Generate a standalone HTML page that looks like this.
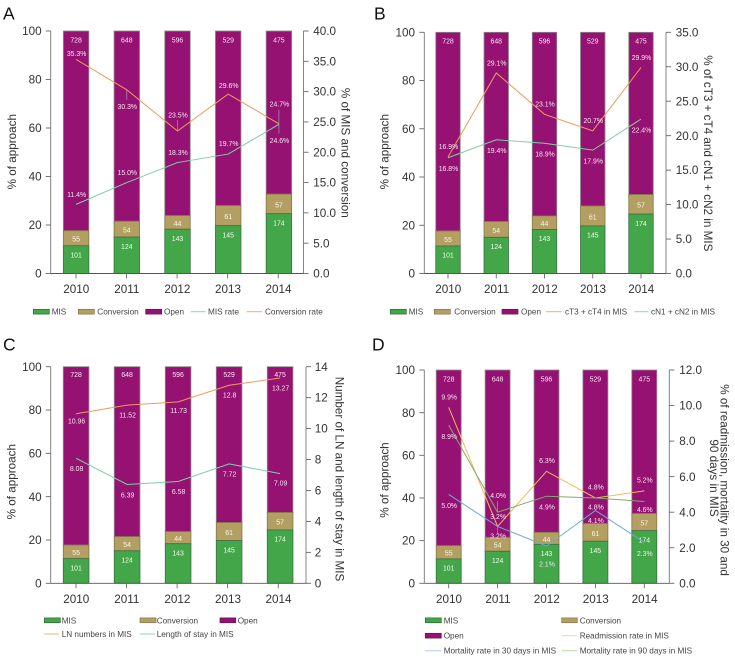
<!DOCTYPE html>
<html lang="en">
<head>
<meta charset="utf-8">
<title>Surgical approach trends 2010-2014</title>
<style>
html,body{margin:0;padding:0;background:#fff;}
svg{display:block;}
text{font-family:"Liberation Sans",Arial,sans-serif;}
</style>
</head>
<body>
<svg id="figure" xmlns="http://www.w3.org/2000/svg" width="735" height="657" viewBox="0 0 735 657"></svg>
<script>
// ---- shared chart data ----
var years = ['2010', '2011', '2012', '2013', '2014'];
var misCounts = [101, 124, 143, 145, 174];
var conversionCounts = [55, 54, 44, 61, 57];
var openCounts = [728, 648, 596, 529, 475];
var leftTickLabels = ['0', '20', '40', '60', '80', '100'];

// ---- panel A ----
var rightTicksA = ['0.0', '5.0', '10.0', '15.0', '20.0', '25.0', '30.0', '35.0', '40.0'];
var misRateA = [11.4, 15.0, 18.3, 19.7, 24.6];
var conversionRateA = [35.3, 30.3, 23.5, 29.6, 24.7];

// ---- panel B ----
var rightTicksB = ['0.0', '5.0', '10.0', '15.0', '20.0', '25.0', '30.0', '35.0'];
var cT3T4B = [16.9, 29.1, 23.1, 20.7, 29.9];
var cN1N2B = [16.8, 19.4, 18.9, 17.9, 22.4];

// ---- panel C ----
var rightTicksC = ['0', '2', '4', '6', '8', '10', '12', '14'];
var lnNumbersC = [10.96, 11.52, 11.73, 12.8, 13.27];
var lengthOfStayC = [8.08, 6.39, 6.58, 7.72, 7.09];

// ---- panel D ----
var rightTicksD = ['0.0', '2.0', '4.0', '6.0', '8.0', '10.0', '12.0'];
var readmissionD = [9.9, 3.2, 6.3, 4.8, 5.2];
var mortality30D = [5.0, 3.2, 2.1, 4.1, 2.3];
var mortality90D = [8.9, 4.0, 4.9, 4.8, 4.6];

function pct(v) { return v.toFixed(1) + '%'; }
function plain(v) { return String(v); }

var panels = [
  {
    id: 'a', letter: 'A', letterX: 3, letterY: 19.5,
    left: 50.7, right: 303.5, top: 31, bottom: 273.5,
    barStart: 76.1, barStep: 50.7, barWidth: 25.5, tickStart: 76, tickStep: 50.55,
    leftLabelX: 41.7, rightLabelX: 313.3,
    rightTicks: rightTicksA, rightMax: 40, format: pct,
    leftTitleX: 12.3, leftTitleY: 151.7,
    rightTitles: [{ text: '% of MIS and conversion', x: 345, y: 152.8 }],
    series: [
      { key: 'mis-rate', values: misRateA, color: '#7fcfa8', nudge: [-10, -10, -10, -10.7, 16] },
      { key: 'conversion-rate', values: conversionRateA, color: '#ef9a60', nudge: [-6, 16.7, -16, -8.3, -19.7] }
    ],
    leaders: [
      { s: 1, c: 1, from: 0, to: 10 },
      { s: 1, c: 2, from: -11, to: 0 },
      { s: 1, c: 4, from: -14, to: 10 }
    ],
    topLabelDy: 9.3,
    legend: [
      { type: 'bar', fill: '#43a648', stroke: '#2f6b3a', text: 'MIS', x: 33.3, w: 16, tx: 51.7, y: 311.7 },
      { type: 'bar', fill: '#b49f62', stroke: '#85764a', text: 'Conversion', x: 78.3, w: 16, tx: 97.3, y: 311.7 },
      { type: 'bar', fill: '#951273', stroke: '#6d1056', text: 'Open', x: 145.7, w: 16, tx: 164, y: 311.7 },
      { type: 'line', fill: '#8fd5b2', text: 'MIS rate', x: 190.7, w: 15, tx: 208, y: 311.7 },
      { type: 'line', fill: '#f2ab7a', text: 'Conversion rate', x: 246.7, w: 15.6, tx: 265, y: 311.7 }
    ]
  },
  {
    id: 'b', letter: 'B', letterX: 374, letterY: 19.5,
    left: 424.3, right: 666, top: 32.3, bottom: 273.5,
    barStart: 448, barStep: 48.25, barWidth: 24.5, tickStart: 448, tickStep: 48.25,
    leftLabelX: 415, rightLabelX: 675.7,
    rightTicks: rightTicksB, rightMax: 35, format: pct,
    leftTitleX: 385, leftTitleY: 151.7,
    rightTitles: [{ text: '% of cT3 + cT4 and cN1 + cN2 in MIS', x: 707.7, y: 153.3 }],
    series: [
      { key: 'ct3-ct4', values: cT3T4B, color: '#ef9a60', nudge: [-10.3, -9.7, -10, -10, -10] },
      { key: 'cn1-cn2', values: cN1N2B, color: '#7fcfa8', nudge: [11, 10.7, 11, 11, 11] }
    ],
    leaders: [],
    topLabelDy: 9,
    legend: [
      { type: 'bar', fill: '#43a648', stroke: '#2f6b3a', text: 'MIS', x: 390.3, w: 16, tx: 408.7, y: 311.7 },
      { type: 'bar', fill: '#b49f62', stroke: '#85764a', text: 'Conversion', x: 434.3, w: 16, tx: 454.3, y: 311.7 },
      { type: 'bar', fill: '#951273', stroke: '#6d1056', text: 'Open', x: 502, w: 16, tx: 521, y: 311.7 },
      { type: 'line', fill: '#f2ab7a', text: 'cT3 + cT4 in MIS', x: 546, w: 15.7, tx: 565, y: 311.7 },
      { type: 'line', fill: '#8fd5b2', text: 'cN1 + cN2 in MIS', x: 634.3, w: 14, tx: 651, y: 311.7 }
    ]
  },
  {
    id: 'c', letter: 'C', letterX: 3, letterY: 350.7,
    left: 50.7, right: 306, top: 366.7, bottom: 583.3,
    barStart: 76.1, barStep: 51, barWidth: 25.7, tickStart: 76, tickStep: 50.55,
    leftLabelX: 41.7, rightLabelX: 314.7,
    rightTicks: rightTicksC, rightMax: 14, format: plain,
    leftTitleX: 12, leftTitleY: 481.7,
    rightTitles: [{ text: 'Number of LN and length of stay in MIS', x: 339, y: 479 }],
    series: [
      { key: 'ln-numbers', values: lnNumbersC, color: '#ef9a60', nudge: [7.3, 10, 9, 10, 10] },
      { key: 'length-of-stay', values: lengthOfStayC, color: '#7fcfa8', nudge: [10.3, 10.7, 10.3, 10, 9.7] }
    ],
    leaders: [],
    topLabelDy: 7.7,
    legend: [
      { type: 'bar', fill: '#43a648', stroke: '#2f6b3a', text: 'MIS', x: 44.3, w: 16, tx: 61.7, y: 620.3 },
      { type: 'bar', fill: '#b49f62', stroke: '#85764a', text: 'Conversion', x: 140, w: 16, tx: 156.7, y: 620.3 },
      { type: 'bar', fill: '#951273', stroke: '#6d1056', text: 'Open', x: 220, w: 15.7, tx: 237.7, y: 620.3 },
      { type: 'line', fill: '#f2ab7a', text: 'LN numbers in MIS', x: 44.3, w: 14.7, tx: 61.7, y: 634 },
      { type: 'line', fill: '#8fd5b2', text: 'Length of stay in MIS', x: 140, w: 15, tx: 156.7, y: 634 }
    ]
  },
  {
    id: 'd', letter: 'D', letterX: 372, letterY: 350.7,
    left: 424.3, right: 669.3, top: 370, bottom: 583.3,
    barStart: 448.7, barStep: 48.9, barWidth: 25, tickStart: 448.7, tickStep: 48.9,
    leftLabelX: 415, rightLabelX: 679.3,
    rightTicks: rightTicksD, rightMax: 12, format: pct,
    leftTitleX: 385, leftTitleY: 480,
    rightTitles: [
      { text: '% of readmission, mortality in 30 and', x: 724, y: 480 },
      { text: '90 days in MIS', x: 713.3, y: 478 }
    ],
    series: [
      { key: 'readmission', values: readmissionD, color: '#f4b95a', nudge: [-10, -9.7, -10.7, -11, -10.7] },
      { key: 'mortality-30', values: mortality30D, color: '#6ea9dc', nudge: [11.3, 9.7, 18, 10, 11.3] },
      { key: 'mortality-90', values: mortality90D, color: '#82ac6c', nudge: [11.3, -16.7, 10.7, 9, 8] }
    ],
    leaders: [
      { s: 2, c: 1, from: -11, to: 0 },
      { s: 1, c: 1, from: 0, to: 7 }
    ],
    topLabelDy: 9.3,
    legend: [
      { type: 'bar', fill: '#43a648', stroke: '#2f6b3a', text: 'MIS', x: 425.3, w: 16, tx: 443.7, y: 620.3 },
      { type: 'bar', fill: '#b49f62', stroke: '#85764a', text: 'Conversion', x: 561.7, w: 15.6, tx: 579.7, y: 620.3 },
      { type: 'bar', fill: '#951273', stroke: '#6d1056', text: 'Open', x: 425.3, w: 16, tx: 443.7, y: 635.7 },
      { type: 'line', fill: '#f8d590', text: 'Readmission rate in MIS', x: 561.7, w: 15.6, tx: 579.7, y: 635.7 },
      { type: 'line', fill: '#b5cde8', text: 'Mortality rate in 30 days in MIS', x: 425.3, w: 16, tx: 443.7, y: 650.7 },
      { type: 'line', fill: '#bcd8ad', text: 'Mortality rate in 90 days in MIS', x: 561.7, w: 15.6, tx: 579.7, y: 650.7 }
    ]
  }
];

var NS = 'http://www.w3.org/2000/svg';
var root = document.getElementById('figure');

function mk(tag, attrs, parent) {
  var el = document.createElementNS(NS, tag);
  for (var k in attrs) { el.setAttribute(k, attrs[k]); }
  parent.appendChild(el);
  return el;
}

function drawPanel(p) {
  var g = mk('g', {}, root);
  
  

  function yLeft(v) { return p.bottom - v / 100 * (p.bottom - p.top); }
  function yRight(v) { return p.bottom - v / p.rightMax * (p.bottom - p.top); }
  function xBar(i) { return p.barStart + i * p.barStep; }
  function xTick(i) { return p.tickStart + i * p.tickStep; }

  var letter = mk('text', { x: p.letterX, y: p.letterY, 'font-size': 17.5, fill: '#111' }, g);
  letter.textContent = p.letter;
  
  

  // stacked bars
  years.forEach(function (year, i) {
    var total = misCounts[i] + conversionCounts[i] + openCounts[i];
    var misTop = misCounts[i] / total * 100;
    var convTop = (misCounts[i] + conversionCounts[i]) / total * 100;
    var x = xBar(i) - p.barWidth / 2;

    var open = mk('rect', { x: x, y: yLeft(100), width: p.barWidth, height: yLeft(convTop) - yLeft(100), fill: '#951273', stroke: '#8f8a90', 'stroke-width': 0.8 }, g);
    
    

    var conv = mk('rect', { x: x, y: yLeft(convTop), width: p.barWidth, height: yLeft(misTop) - yLeft(convTop), fill: '#b49f62', stroke: '#85764a', 'stroke-width': 0.8 }, g);
    
    

    var mis = mk('rect', { x: x, y: yLeft(misTop), width: p.barWidth, height: yLeft(0) - yLeft(misTop), fill: '#43a648', stroke: '#3a7045', 'stroke-width': 0.8 }, g);
    
    

    var openLabel = mk('text', { x: xBar(i), y: yLeft(100) + p.topLabelDy + 2.4, 'font-size': 6.9, fill: '#f6e8f2', 'text-anchor': 'middle' }, g);
    openLabel.textContent = openCounts[i];
    
    

    var convLabel = mk('text', { x: xBar(i), y: (yLeft(convTop) + yLeft(misTop)) / 2 + 3.4, 'font-size': 6.9, fill: '#fbf7e8', 'text-anchor': 'middle' }, g);
    convLabel.textContent = conversionCounts[i];
    
    

    var misLabel = mk('text', { x: xBar(i), y: yLeft(misTop) + 9.3 + 2.4, 'font-size': 6.9, fill: '#f4fbf2', 'text-anchor': 'middle' }, g);
    misLabel.textContent = misCounts[i];
    
    
  });

  // axes
  var leftAxis = mk('line', { x1: p.left, y1: p.top, x2: p.left, y2: p.bottom, stroke: '#777', 'stroke-width': 0.9 }, g);
  
  

  var rightAxis = mk('line', { x1: p.right, y1: p.top, x2: p.right, y2: p.bottom, stroke: '#777', 'stroke-width': 0.9 }, g);
  
  

  var baseAxis = mk('line', { x1: p.left, y1: p.bottom, x2: p.right, y2: p.bottom, stroke: '#555', 'stroke-width': 0.9 }, g);
  
  

  leftTickLabels.forEach(function (label) {
    var y = yLeft(parseFloat(label));
    var tick = mk('line', { x1: p.left - 5, y1: y, x2: p.left, y2: y, stroke: '#666', 'stroke-width': 0.9 }, g);
    
    
    var t = mk('text', { x: p.leftLabelX, y: y + 4.1, 'font-size': 11.7, fill: '#333', 'text-anchor': 'end' }, g);
    t.textContent = label;
    
    
  });

  p.rightTicks.forEach(function (label) {
    var y = yRight(parseFloat(label));
    var tick = mk('line', { x1: p.right, y1: y, x2: p.right + 5, y2: y, stroke: '#666', 'stroke-width': 0.9 }, g);
    
    
    var t = mk('text', { x: p.rightLabelX, y: y + 4.1, 'font-size': 11.7, fill: '#333' }, g);
    t.textContent = label;
    
    
  });

  years.forEach(function (year, i) {
    var tick = mk('line', { x1: xTick(i), y1: p.bottom, x2: xTick(i), y2: p.bottom + 5, stroke: '#666', 'stroke-width': 0.9 }, g);
    
    
    var t = mk('text', { x: xTick(i) + 0.3, y: p.bottom + 19.6, 'font-size': 11.7, fill: '#333', 'text-anchor': 'middle' }, g);
    t.textContent = year;
    
    
  });

  // axis titles
  var leftTitle = mk('text', { transform: 'translate(' + p.leftTitleX + ',' + p.leftTitleY + ') rotate(-90)', 'font-size': 11.7, fill: '#333', 'text-anchor': 'middle', 'dominant-baseline': 'central' }, g);
  leftTitle.textContent = '% of approach';
  
  

  p.rightTitles.forEach(function (rt) {
    var t = mk('text', { transform: 'translate(' + rt.x + ',' + rt.y + ') rotate(90)', 'font-size': 11.7, fill: '#333', 'text-anchor': 'middle', 'dominant-baseline': 'central' }, g);
    t.textContent = rt.text;
    
    
  });

  // leader lines
  p.leaders.forEach(function (l) {
    var px = xBar(l.c);
    var py = yRight(p.series[l.s].values[l.c]);
    var leader = mk('line', { x1: px, y1: py + l.from, x2: px, y2: py + l.to, stroke: '#9a8aa8', 'stroke-width': 0.8 }, g);
    
    
  });

  // series lines and value labels
  p.series.forEach(function (s) {
    var pts = s.values.map(function (v, i) { return xBar(i).toFixed(2) + ',' + yRight(v).toFixed(2); }).join(' ');
    var line = mk('polyline', { points: pts, fill: 'none', stroke: s.color, 'stroke-width': 1 }, g);
    
    
    s.values.forEach(function (v, i) {
      var t = mk('text', { x: xBar(i) + 0.5, y: yRight(v) + s.nudge[i] + 2.4, 'font-size': 6.9, fill: '#f6e4f0', 'text-anchor': 'middle' }, g);
      t.textContent = p.format(v);
      
      
    });
  });

  // legend
  p.legend.forEach(function (item) {
    var mark;
    if (item.type === 'bar') {
      mark = mk('rect', { x: item.x, y: item.y - 2.4, width: item.w, height: 4.8, fill: item.fill, stroke: item.stroke, 'stroke-width': 0.7 }, g);
    } else {
      mark = mk('line', { x1: item.x, y1: item.y, x2: item.x + item.w, y2: item.y, stroke: item.fill, 'stroke-width': 1 }, g);
    }
    
    
    var t = mk('text', { x: item.tx, y: item.y + 3, 'font-size': 8.2, fill: '#444' }, g);
    t.textContent = item.text;
    
    
  });
}

panels.forEach(drawPanel);
</script>
</body>
</html>
